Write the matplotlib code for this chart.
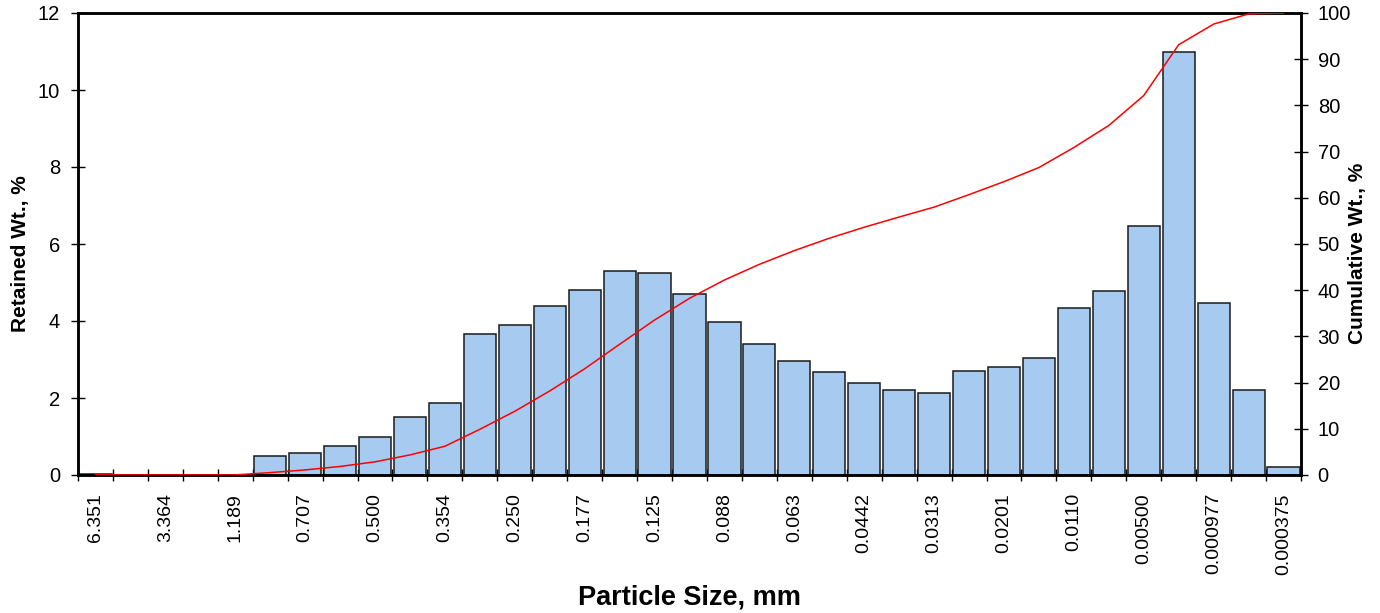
import numpy as np
import matplotlib
matplotlib.use("Agg")
import matplotlib.pyplot as plt
from matplotlib.ticker import FixedLocator

plt.rcParams['font.family'] = ['Liberation Sans', 'DejaVu Sans']

# Retained weight (%) per size class, coarsest to finest
retained = [0.02, 0.00, 0.00, 0.00, 0.00, 0.50, 0.58, 0.75, 1.00, 1.50,
            1.87, 3.67, 3.90, 4.40, 4.80, 5.30, 5.25, 4.70, 3.97, 3.39,
            2.97, 2.67, 2.39, 2.21, 2.14, 2.71, 2.81, 3.05, 4.34, 4.77,
            6.48, 11.00, 4.46, 2.20, 0.20]

# Size labels shown on every other class (mm)
size_labels = ["6.351", "3.364", "1.189", "0.707", "0.500", "0.354",
               "0.250", "0.177", "0.125", "0.088", "0.063", "0.0442",
               "0.0313", "0.0201", "0.0110", "0.00500", "0.000977",
               "0.000375"]

retained = np.array(retained)
cumulative = np.cumsum(retained)
x = np.arange(len(retained))

W, H = 1380, 613
fig = plt.figure(figsize=(W / 100, H / 100), dpi=100)
ax = fig.add_axes([78 / W, 1 - 475 / H, (1301 - 78) / W, (475 - 13) / H])

ax.bar(x, retained, width=0.92, color="#A6CAF0", edgecolor="#1a1a1a",
       linewidth=1.1, zorder=2)
ax.set_xlim(-0.5, len(retained) - 0.5)
ax.set_ylim(0, 12)
ax.set_yticks(np.arange(0, 13, 2))

# labels every second class, tick marks at class boundaries
ax.xaxis.set_major_locator(FixedLocator(x[::2]))
ax.set_xticklabels(size_labels, rotation=90, va="top", ha="center")
ax.xaxis.set_minor_locator(FixedLocator(np.arange(-0.5, len(retained), 1.0)))
ax.tick_params(axis="x", which="major", length=0, pad=13, labelsize=14)
ax.tick_params(axis="x", which="minor", length=8, width=1.0,
               direction="inout", color="black")
ax.tick_params(axis="y", which="major", length=10, width=1.0, pad=8,
               labelsize=14.5, direction="inout")

for sp in ax.spines.values():
    sp.set_linewidth(1.8)
    sp.set_color("black")

ax.set_ylabel("Retained Wt., %", fontsize=15, fontweight="bold", va="center")
ax.yaxis.set_label_coords(-0.047, 0.48)
ax.set_xlabel("Particle Size, mm", fontsize=19.5, fontweight="bold",
              va="center")
ax.xaxis.set_label_coords(0.5, -0.266)

ax2 = ax.twinx()
ax2.plot(x, cumulative, color="red", linewidth=1.1, zorder=3)
ax2.set_ylim(0, 100)
ax2.set_yticks(np.arange(0, 101, 10))
ax2.tick_params(axis="y", length=10, width=1.0, pad=7, labelsize=14.5,
                direction="inout")
for sp in ax2.spines.values():
    sp.set_linewidth(1.8)
    sp.set_color("black")
ax2.set_ylabel("Cumulative Wt., %", fontsize=15, fontweight="bold",
               rotation=90, va="center")
ax2.yaxis.set_label_coords(1.0466, 0.48)

fig.savefig("out.png", dpi=100)
